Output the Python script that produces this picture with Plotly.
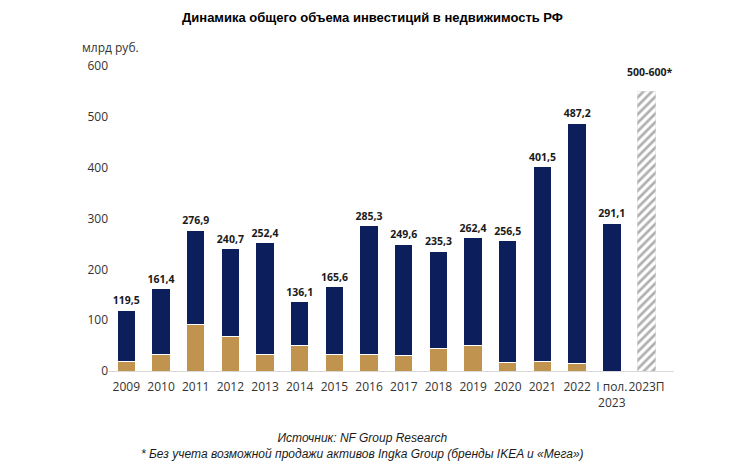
import plotly.graph_objects as go

categories = ["2009", "2010", "2011", "2012", "2013", "2014", "2015", "2016",
              "2017", "2018", "2019", "2020", "2021", "2022", "I пол.<br>2023"]
totals = [119.5, 161.4, 276.9, 240.7, 252.4, 136.1, 165.6, 285.3,
          249.6, 235.3, 262.4, 256.5, 401.5, 487.2, 291.1]
gold_part = [18, 33, 92, 68, 33, 51, 32, 33, 30, 45, 50, 16, 18, 14, 0]
forecast_cat = ["2023П"]
forecast_value = [550]
forecast_label = "500-600*"

navy_part = [round(t - g, 1) for t, g in zip(totals, gold_part)]
total_labels = [f"{t:.1f}".replace(".", ",") for t in totals]

NAVY = "#0c1e5b"
GOLD = "#c0944f"
LABEL_FONT = dict(family="Open Sans, Arial", size=10.5, color="#1a1a1a", weight="bold")

fig = go.Figure()
fig.add_trace(go.Bar(
    x=categories, y=gold_part, marker=dict(color=GOLD, line=dict(color="white", width=1)),
    hoverinfo="skip", showlegend=False))
fig.add_trace(go.Bar(
    x=categories, y=navy_part, marker=dict(color=NAVY, line=dict(color="white", width=1)),
    text=total_labels, textposition="outside", cliponaxis=False, constraintext="none",
    textfont=LABEL_FONT, hoverinfo="skip", showlegend=False))
fig.add_trace(go.Bar(
    x=forecast_cat, y=forecast_value,
    marker=dict(color="white", line=dict(color="#e0e0e0", width=0.5),
                pattern=dict(shape="/", fgcolor="#5f5f5f", bgcolor="white", size=6, solidity=0.45)),
    hoverinfo="skip", showlegend=False))

fig.add_annotation(x=forecast_cat[0], y=forecast_value[0], text=forecast_label,
                   showarrow=False, yanchor="bottom", yshift=10, xshift=3, font=LABEL_FONT)

fig.add_annotation(xref="paper", yref="paper", x=-0.051, y=1.062, xanchor="left", yanchor="middle",
                   text="млрд руб.", showarrow=False,
                   font=dict(family="Open Sans, Arial", size=12, color="#333333"))

fig.add_annotation(xref="paper", yref="paper", x=0.448, y=-0.245, xanchor="center", yanchor="middle",
                   text="<i>Источник: NF Group Research<br>* Без учета возможной продажи активов Ingka Group (бренды IKEA и «Мега»)</i>",
                   showarrow=False, align="center",
                   font=dict(family="Liberation Sans, Arial", size=12, color="#1a1a1a"))

fig.update_layout(
    width=745, height=467,
    margin=dict(l=109, r=71, t=66, b=96),
    paper_bgcolor="white", plot_bgcolor="white",
    barmode="stack", bargap=0.47,
    title=dict(text="<b>Динамика общего объема инвестиций в недвижимость РФ</b>",
               x=0.5, xanchor="center", y=1 - 17 / 467, yanchor="middle",
               font=dict(family="Liberation Sans, Arial", size=13, color="#000000")),
    xaxis=dict(categoryorder="array", categoryarray=categories + forecast_cat,
               showline=True, linecolor="#d9d9d9", linewidth=1, ticks="", tickangle=0,
               ticklabelstandoff=5,
               tickfont=dict(family="Open Sans, Arial", size=12, color="#333333")),
    yaxis=dict(range=[0, 600], tickvals=[0, 100, 200, 300, 400, 500, 600],
               showgrid=False, zeroline=False, showline=False, ticks="",
               tickfont=dict(family="Open Sans, Arial", size=12, color="#333333")),
)

fig.write_html("out.html")
